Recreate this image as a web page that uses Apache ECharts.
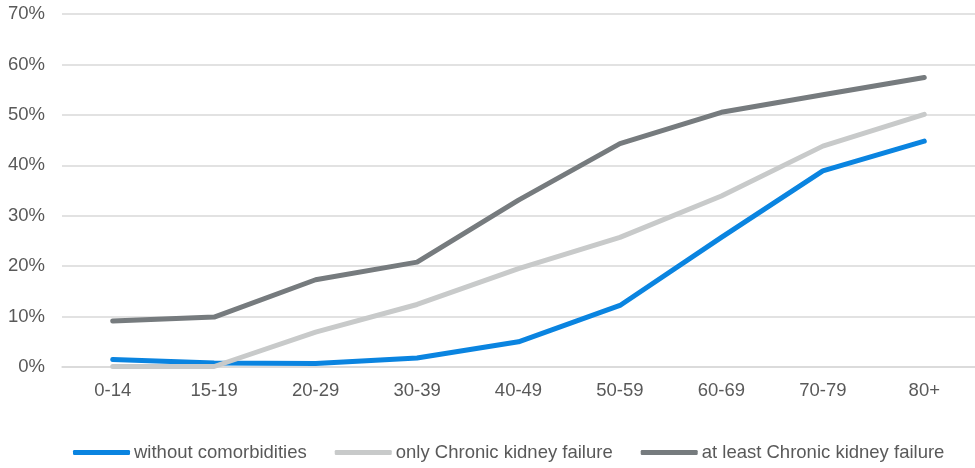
<!DOCTYPE html>
<html>
<head>
<meta charset="utf-8">
<script src="https://cdn.jsdelivr.net/npm/echarts@6/dist/echarts.min.js"></script>
<style>
  html, body { margin: 0; padding: 0; background: #fff; }
  #chart { width: 975px; height: 468px; }
</style>
</head>
<body>
<div id="chart"></div>
<script>
// Age groups along the x axis
const ageGroups = ['0-14', '15-19', '20-29', '30-39', '40-49', '50-59', '60-69', '70-79', '80+'];

// Share of cases per age group (%)
const withoutComorbidities = [1.5, 0.8, 0.7, 1.8, 5.0, 12.2, 25.7, 38.9, 44.8];
const onlyChronicKidney = [0.1, 0.1, 6.9, 12.4, 19.5, 25.7, 33.9, 43.8, 50.1];
const atLeastChronicKidney = [9.1, 9.9, 17.3, 20.8, 33.1, 44.3, 50.5, 54.0, 57.4];

const seriesNames = ['without comorbidities', 'only Chronic kidney failure', 'at least Chronic kidney failure'];
const seriesColors = ['#0A84E0', '#C8CACA', '#767B7E'];

const chart = echarts.init(document.getElementById('chart'));

const textColor = '#595959';
const font = 'Liberation Sans, Arial, sans-serif';
const fontSize = 18.5;

function lineSeries(name, data, color) {
  return {
    name: name,
    type: 'line',
    data: data,
    symbol: 'none',
    smooth: false,
    lineStyle: { width: 5, color: color, cap: 'round', join: 'round' },
    itemStyle: { color: color }
  };
}

chart.setOption({
  animation: false,
  grid: { left: 62, top: 14, width: 921, bottom: 101, containLabel: false },
  legend: {
    top: 438,
    left: 68,
    itemWidth: 57,
    itemHeight: 5,
    itemGap: 28,
    icon: 'roundRect',
    textStyle: { color: textColor, fontSize: fontSize, fontFamily: font, padding: [0, 0, 0, -1] },
    data: seriesNames
  },
  xAxis: {
    type: 'category',
    data: ageGroups,
    boundaryGap: true,
    axisLine: { show: true, lineStyle: { color: '#D9D9D9', width: 1.5 } },
    axisTick: { show: false },
    axisLabel: { color: textColor, fontSize: fontSize, fontFamily: font, margin: 14 }
  },
  yAxis: {
    type: 'value',
    min: 0,
    max: 70,
    interval: 10,
    axisLine: { show: false },
    axisTick: { show: false },
    axisLabel: { color: textColor, fontSize: fontSize, fontFamily: font, margin: 17, formatter: '{value}%' },
    splitLine: { lineStyle: { color: '#D9D9D9', width: 1.5 } }
  },
  series: [
    lineSeries(seriesNames[0], withoutComorbidities, seriesColors[0]),
    lineSeries(seriesNames[1], onlyChronicKidney, seriesColors[1]),
    lineSeries(seriesNames[2], atLeastChronicKidney, seriesColors[2])
  ]
});
</script>
</body>
</html>
